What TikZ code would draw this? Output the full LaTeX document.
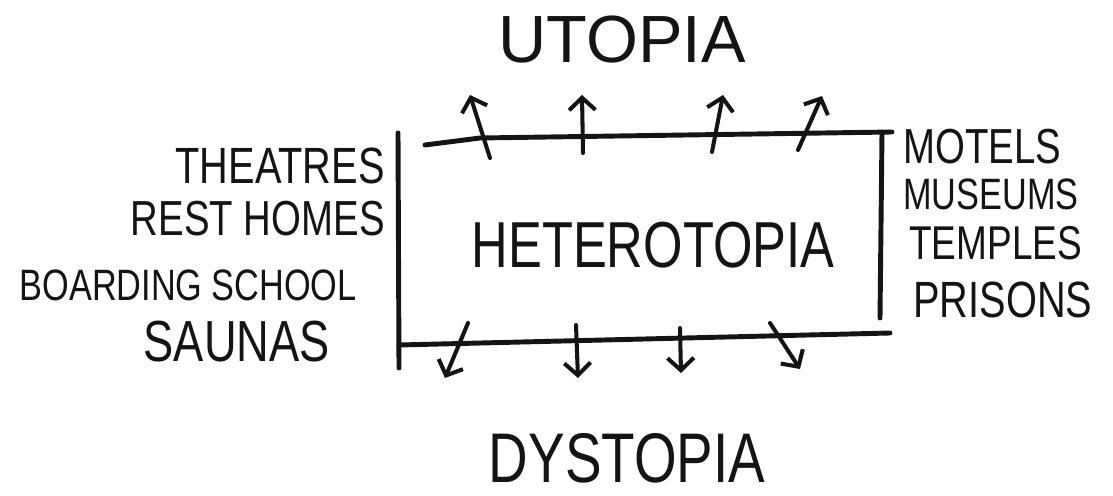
\documentclass[tikz,border=0pt]{standalone}
\usepackage{fontspec}
\usepackage{tikz}
\usetikzlibrary{arrows.meta}
\newfontfamily\sketchfont{Liberation Sans}[FakeStretch=0.78]
\newfontfamily\wideface{Liberation Sans}
\definecolor{ink}{HTML}{141414}

\tikzset{
  pen/.style={draw=ink, line width=2.8pt, line cap=round, line join=round},
  arr/.style={draw=ink, line width=2.3pt, line cap=round,
    -{Straight Barb[length=7pt,width=15pt,line width=2.3pt]}},
  lbl/.style={text=ink, inner sep=0pt, font=\sketchfont\fontsize{#1}{#1}\selectfont},
}

\begin{document}
\begin{tikzpicture}[x=0.02cm, y=-0.02cm]
\useasboundingbox (0,0) rectangle (1113,496);

\node[lbl=37] (hetero) at (653,245) {HETEROTOPIA};
\node[text=ink, inner sep=0pt, font=\wideface\fontsize{38}{38}\selectfont] (utopia) at (622,40) {UTOPIA};
\node[lbl=40] (dystopia) at (627,458) {DYSTOPIA};

\node[lbl=29, anchor=east] (theatres) at (385,166) {THEATRES};
\node[lbl=28, anchor=east] (resthomes) at (385,219) {REST HOMES};
\node[lbl=25, anchor=east] (boarding) at (357,285) {BOARDING SCHOOL};
\node[lbl=33, anchor=east] (saunas) at (330,342) {SAUNAS};

\node[lbl=28, anchor=west] (motels) at (903,147) {MOTELS};
\node[lbl=25, anchor=west] (museums) at (903,194) {MUSEUMS};
\node[lbl=27, anchor=west] (temples) at (909,243) {TEMPLES};
\node[lbl=29, anchor=west] (prisons) at (913,300) {PRISONS};

\coordinate (tl) at (425,145);
\coordinate (tr) at (892,132);
\coordinate (bl) at (399,345);
\coordinate (br) at (890,333);
\draw[pen] (398,133) -- (399,368);
\draw[pen] (tl) -- (480,138) -- (tr);
\draw[pen] (882,133) -- (880,318);
\draw[pen] (bl) -- (br);

\foreach \i/\xa/\ya/\xb/\yb in {1/490/158/470/95, 2/583/153/582/95, 3/712/152/723/95, 4/798/150/822/96}{
  \coordinate (up\i-s) at (\xa,\ya);
  \coordinate (up\i-e) at (\xb,\yb);
  \draw[arr] (up\i-s) -- (up\i-e);
}
\foreach \i/\xa/\ya/\xb/\yb in {1/468/323/445/378, 2/576/325/578/378, 3/680/328/681/373, 4/770/323/800/369}{
  \coordinate (dn\i-s) at (\xa,\ya);
  \coordinate (dn\i-e) at (\xb,\yb);
  \draw[arr] (dn\i-s) -- (dn\i-e);
}
\end{tikzpicture}
\end{document}
